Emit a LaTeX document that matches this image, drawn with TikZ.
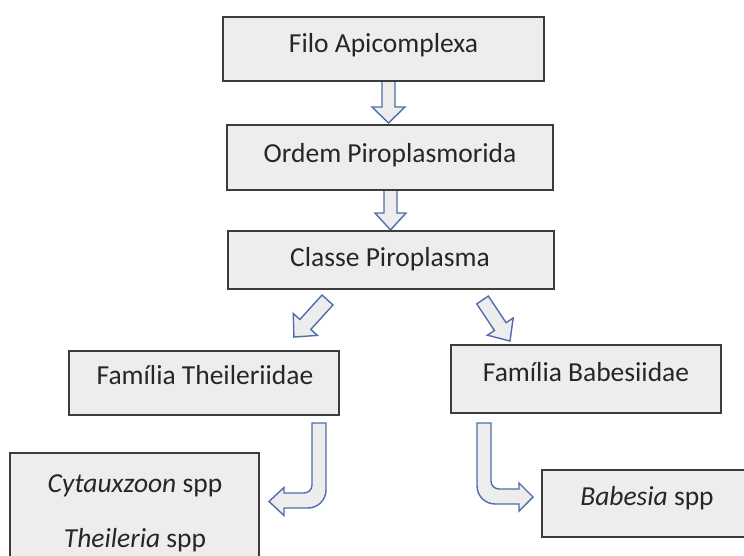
\documentclass[tikz,border=0pt]{standalone}
\usepackage{fontspec}
\setmainfont{Carlito}
\definecolor{boxfill}{RGB}{238,237,237}
\definecolor{boxline}{RGB}{60,60,60}
\definecolor{arrowblue}{RGB}{79,110,170}
\begin{document}
\begin{tikzpicture}[x=1pt,y=-1pt,
  box/.style={draw=boxline, fill=boxfill, line width=2pt, rectangle, inner sep=0pt},
  lbl/.style={inner sep=0pt, font=\fontsize{27.5}{33}\selectfont, text=black!85},
  barrow/.style={draw=arrowblue, fill=boxfill, line width=1.4pt, line join=miter}]
\useasboundingbox (0,0) rectangle (744,556);
\clip (0,0) rectangle (744,556);
\fill[white] (0,0) rectangle (744,556);

% straight block arrows (drawn before boxes)
\draw[barrow] (382,81) -- (382,107) -- (372,107) -- (388.5,123) -- (405,107) -- (395,107) -- (395,81) -- cycle;
\draw[barrow] (384,190) -- (384,213) -- (375,213) -- (390.5,230) -- (406,213) -- (397,213) -- (397,190) -- cycle;

% diagonal block arrows
\begin{scope}[shift={(327.5,300)}, rotate=-42.2]
  \draw[barrow] (-7.4,0) -- (-7.4,33) -- (-16.3,33) -- (0,50) -- (16.3,33) -- (7.4,33) -- (7.4,0) -- cycle;
\end{scope}
\begin{scope}[shift={(482.5,300)}, rotate=33.8]
  \draw[barrow] (-7,0) -- (-7,32) -- (-15.5,32) -- (0,49.4) -- (15.5,32) -- (7,32) -- (7,0) -- cycle;
\end{scope}

% boxes
\node[box, minimum width=321pt, minimum height=64pt] (b1) at (383.5,49) {};
\node[lbl] (t1) at (383.5,45) {Filo Apicomplexa};
\node[box, minimum width=326pt, minimum height=65pt] (b2) at (390,157.5) {};
\node[lbl] (t2) at (390,155) {Ordem Piroplasmorida};
\node[box, minimum width=326pt, minimum height=58pt] (b3) at (391,260) {};
\node[lbl] (t3) at (390,259) {Classe Piroplasma};
\node[box, minimum width=270pt, minimum height=64pt] (b4) at (204,383) {};
\node[lbl] (t4) at (205,375) {Família Theileriidae};
\node[box, minimum width=270pt, minimum height=68pt] (b5) at (586,379) {};
\node[lbl] (t5) at (586,372.5) {Família Babesiidae};
\node[box, minimum width=249pt, minimum height=130pt] (b6) at (134.5,518) {};
\node[lbl] (t6a) at (135,485.5) {\itshape Cytauxzoon\upshape\ spp};
\node[lbl] (t6b) at (135,540.5) {\itshape Theileria\upshape\ spp};
\node[box, minimum width=210pt, minimum height=67pt] (b7) at (647,503.5) {};
\node[lbl] (t7) at (647,498) {\itshape Babesia\upshape\ spp};

% hooked block arrows
\draw[barrow] (312,423) -- (326,423) -- (326,490) .. controls (326,499.9) and (317.9,508) .. (308,508)
  -- (284,508) -- (284,515.5) -- (269,501.5) -- (284,487.5) -- (284,493) -- (304,493)
  .. controls (308.4,493) and (312,489.4) .. (312,485) -- cycle;
\draw[barrow] (477,423) -- (491,423) -- (491,481) .. controls (491,485.4) and (494.6,489) .. (499,489)
  -- (519,489) -- (519,483) -- (533,497) -- (519,511) -- (519,504) -- (495,504)
  .. controls (485.1,504) and (477,495.9) .. (477,486) -- cycle;
\end{tikzpicture}
\end{document}
